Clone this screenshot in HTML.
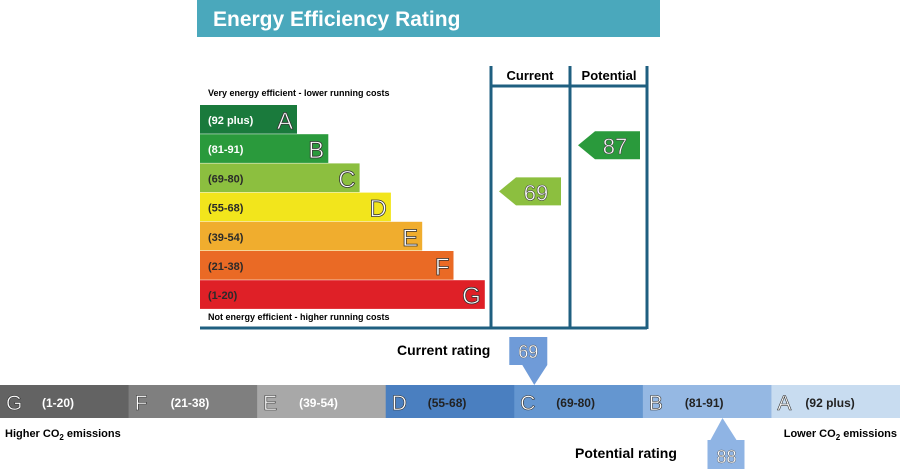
<!DOCTYPE html>
<html><head><meta charset="utf-8"><style>
body{margin:0;background:#fff;font-family:"Liberation Sans",sans-serif}
svg text{font-family:"Liberation Sans",sans-serif}
</style></head><body>
<svg width="900" height="469" viewBox="0 0 900 469">
<rect x="197" y="0" width="463" height="37" fill="#4aa8bc"/>
<text x="213" y="26" fill="#fff" font-size="21" font-weight="bold">Energy Efficiency Rating</text>
<g stroke="#1f5f80" stroke-width="3">
<line x1="491" y1="66" x2="491" y2="329"/><line x1="570" y1="66" x2="570" y2="329"/><line x1="647" y1="66" x2="647" y2="329"/>
<line x1="491" y1="86" x2="647" y2="86"/><line x1="200" y1="328" x2="647" y2="328"/>
</g>
<text x="530" y="80" text-anchor="middle" font-size="13" font-weight="bold">Current</text>
<text x="609" y="80" text-anchor="middle" font-size="13" font-weight="bold">Potential</text>
<text x="208" y="96" font-size="9" font-weight="bold">Very energy efficient - lower running costs</text>
<text x="208" y="320" font-size="9" font-weight="bold">Not energy efficient - higher running costs</text>
<g id="bands"></g>
<g id="arrows"></g>
<g id="co2"></g>
<text x="397" y="355" font-size="14" font-weight="bold">Current rating</text>
<text x="575" y="458" font-size="14" font-weight="bold">Potential rating</text>
<text x="5" y="437" font-size="11" font-weight="bold">Higher CO<tspan font-size="8" dy="3">2</tspan><tspan dy="-3"> emissions</tspan></text>
<text x="897" y="437" text-anchor="end" font-size="11" font-weight="bold">Lower CO<tspan font-size="8" dy="3">2</tspan><tspan dy="-3"> emissions</tspan></text>
</svg>
<script>
const letters=['A','B','C','D','E','F','G'];
const ranges=['(92 plus)','(81-91)','(69-80)','(55-68)','(39-54)','(21-38)','(1-20)'];
const mins=[92,81,69,55,39,21,1];
const currentValue=69;
const potentialValue=87;
const bottomPotential=88;
const colors=['#1a7a3c','#2a9a3c','#8cbf3f','#f2e51c','#f0ad2e','#ea6a25','#df2027'];
const greys=['#c8dcf0','#95b8e3','#6496d0','#4a7fc0','#a8a8a8','#7f7f7f','#636363'];
const NS='http://www.w3.org/2000/svg';
function mk(t,a,p){const e=document.createElementNS(NS,t);for(const k in a)e.setAttribute(k,a[k]);p.appendChild(e);return e;}
const bands=document.getElementById('bands');
const bandTop=105,bandH=29.2;
function bandIndex(v){for(let i=0;i<mins.length;i++)if(v>=mins[i])return i;return 6;}
letters.forEach((L,i)=>{
 const y=bandTop+i*bandH,w=97+i*31.3;
 const r=mk('rect',{x:200,y:y,width:w,height:bandH-0.5,fill:colors[i]},bands);
 
 
 const t=mk('text',{x:208,y:y+19,'font-size':11,'font-weight':'bold',fill:(i<2)?'#fff':'#2a2a2a'},bands);
 
 
 t.textContent=ranges[i];
 const l=mk('text',{x:200+w-4,y:y+24,'text-anchor':'end','font-size':24,fill:'#fff',stroke:'#333','stroke-width':0.8},bands);
 
 
 l.textContent=L;
});
const arrows=document.getElementById('arrows');
function arrow(v,x,name){
 const i=bandIndex(v),y=bandTop+i*bandH+(i==2?14:-3);
 const p=mk('polygon',{points:`${x},${y+14} ${x+17},${y} ${x+62},${y} ${x+62},${y+28} ${x+17},${y+28}`,fill:colors[i]},arrows);
 
 
 const t=mk('text',{x:x+37,y:y+23,'text-anchor':'middle','font-size':22,fill:'#fff',stroke:'#444','stroke-width':0.6},arrows);
 
 
 t.textContent=v;
}
arrow(currentValue,499,'current');
arrow(potentialValue,578,'potential');
const co2=document.getElementById('co2');
const segW=900/7;
for(let k=0;k<7;k++){
 const i=6-k,x=k*segW;
 const r=mk('rect',{x:x,y:385,width:segW+0.5,height:33,fill:greys[i]},co2);
 
 
 const l=mk('text',{x:x+6,y:410,'font-size':21,fill:'#fff',stroke:'#333','stroke-width':0.6},co2);
 
 
 l.textContent=letters[i];
 const t=mk('text',{x:x+(i==0?34:42),y:407,'font-size':12,'font-weight':'bold',fill:k<3?'#fff':'#222'},co2);
 
 
 t.textContent=ranges[i];
}
function xPos(v){const i=bandIndex(v),k=6-i;const lo=mins[i],hi=i==0?100:mins[i-1]-1;return k*segW+8+(v-lo)/(hi-lo+1)*(segW-16);}
const cx=xPos(currentValue)+12;
const cm=mk('polygon',{points:`${cx-25},337 ${cx+13},337 ${cx+13},365 ${cx},385 ${cx-12},365 ${cx-25},365`,fill:'#6f9bd8'},co2);


const ct=mk('text',{x:cx-6,y:358,'text-anchor':'middle','font-size':18,fill:'#fff',stroke:'#555','stroke-width':0.4},co2);


ct.textContent=currentValue;
const px=xPos(bottomPotential);
const pm=mk('polygon',{points:`${px},418 ${px+14},440 ${px+22},440 ${px+22},469 ${px-15},469 ${px-15},440 ${px-12},440`,fill:'#8fb4e4'},co2);


const pt=mk('text',{x:px+4,y:463,'text-anchor':'middle','font-size':18,fill:'#fff',stroke:'#555','stroke-width':0.4},co2);


pt.textContent=bottomPotential;
</script>
</body></html>
